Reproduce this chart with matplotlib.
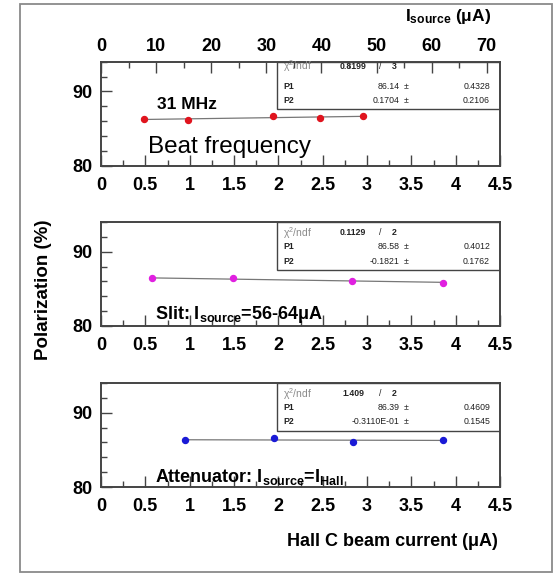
import numpy as np
import matplotlib.pyplot as plt
from matplotlib.patches import Rectangle
from matplotlib.ticker import MultipleLocator

plt.rcParams['font.family'] = ['Liberation Sans', 'DejaVu Sans']
plt.rcParams['mathtext.default'] = 'regular'

# beat frequency, 31 MHz
bf_current = [0.48, 0.98, 1.94, 2.47, 2.95]
bf_pol = [86.35, 86.2, 86.7, 86.45, 86.7]
bf_fit = [86.14, 0.1704]
bf_stats = ['0.8199', '3', '86.14', '0.4328', '0.1704', '0.2106']

# slit, I_source = 56-64 uA
slit_current = [0.57, 1.49, 2.83, 3.86]
slit_pol = [86.45, 86.4, 86.1, 85.8]
slit_fit = [86.58, -0.1821]
slit_stats = ['0.1129', '2', '86.58', '0.4012', '-0.1821', '0.1762']

# attenuator, I_source = I_Hall
att_current = [0.95, 1.95, 2.84, 3.86]
att_pol = [86.3, 86.65, 86.1, 86.32]
att_fit = [86.39, -0.03110]
att_stats = ['1.409', '2', '86.39', '0.4609', '-0.3110E-01', '0.1545']

source_ticks = [0, 10, 20, 30, 40, 50, 60, 70]
source_max = 72.4

W, H = 554, 573
fig = plt.figure(figsize=(W / 100, H / 100), dpi=100)

# outer frame
fig.patches.append(Rectangle((20 / W, 1 - 571.5 / H), 531.5 / W, 568 / H,
                             transform=fig.transFigure, fill=False,
                             edgecolor='#8a8a8a', lw=1.3))

left, width, height = 101 / W, 399 / W, 104 / H
bottoms = [1 - 165.7 / H, 1 - 326 / H, 1 - 487 / H]

def style_axis(ax):
    ax.set_xlim(0, 4.5)
    ax.set_ylim(80, 94)
    ax.xaxis.set_major_locator(MultipleLocator(0.5))
    ax.xaxis.set_minor_locator(MultipleLocator(0.25))
    ax.yaxis.set_major_locator(MultipleLocator(10))
    ax.yaxis.set_minor_locator(MultipleLocator(2))
    ax.set_xticks(np.arange(0, 4.51, 0.5))
    ax.set_xticklabels(['0', '0.5', '1', '1.5', '2', '2.5', '3', '3.5', '4', '4.5'])
    ax.tick_params(which='both', direction='in', top=False, right=False,
                   color='#444444', width=1.0)
    ax.tick_params(which='major', length=8)
    ax.tick_params(which='minor', length=4)
    ax.tick_params(axis='x', which='major', pad=8, labelsize=13)
    ax.tick_params(axis='y', which='major', pad=6, labelsize=13)
    for lab in ax.get_xticklabels() + ax.get_yticklabels():
        lab.set_fontweight('bold')
    for s in ax.spines.values():
        s.set_color('#444444')
        s.set_linewidth(1.4)

def stats_box(ax, stats, chi_top):
    ax.add_patch(Rectangle((0.441, 0.543), 0.559, 0.457, transform=ax.transAxes,
                           facecolor='white', edgecolor='#444444', lw=1.0, zorder=1))
    kw = dict(transform=ax.transAxes, fontsize=6.3, va='center', zorder=3,
              color='#222222')
    ax.text(0.456, chi_top, r'$\chi^2$/ndf', ha='left', fontsize=7.5,
            va='center', zorder=3, color='#8a8a8a', transform=ax.transAxes)
    ax.text(0.632, chi_top, stats[0], ha='center', fontweight='bold', **kw)
    ax.text(0.699, chi_top, '/', ha='center', **kw)
    ax.text(0.735, chi_top, stats[1], ha='center', fontweight='bold', **kw)
    for row, name, val, err in [(0.76, 'P1', stats[2], stats[3]),
                                (0.625, 'P2', stats[4], stats[5])]:
        ax.text(0.456, row, name, ha='left', fontweight='bold', **kw)
        ax.text(0.748, row, val, ha='right', **kw)
        ax.text(0.765, row, '±', ha='center', **kw)
        ax.text(0.975, row, err, ha='right', **kw)

panels = [
    (bf_current, bf_pol, bf_fit, bf_stats, '#e0141e', 0.955),
    (slit_current, slit_pol, slit_fit, slit_stats, '#e020e0', 0.895),
    (att_current, att_pol, att_fit, att_stats, '#1a1ad6', 0.895),
]

axes = []
for b, (cur, pol, fit, stats, col, chi_y) in zip(bottoms, panels):
    ax = fig.add_axes([left, b, width, height])
    style_axis(ax)
    stats_box(ax, stats, chi_y)
    xf = np.array([cur[0], cur[-1]])
    ax.plot(xf, fit[0] + fit[1] * xf, color='#777777', lw=0.9, zorder=2)
    ax.plot(cur, pol, 'o', color=col, ms=4.3, mec=col, zorder=4)
    axes.append(ax)

# source current scale on the top panel
top = axes[0].twiny()
top.set_xlim(0, source_max)
top.xaxis.set_major_locator(MultipleLocator(10))
top.xaxis.set_minor_locator(MultipleLocator(5))
top.set_xticks(source_ticks)
top.tick_params(which='both', direction='in', color='#444444', width=1.0)
top.tick_params(which='major', length=8, pad=5, labelsize=13)
top.tick_params(which='minor', length=4)
for lab in top.get_xticklabels():
    lab.set_fontweight('bold')
for s in top.spines.values():
    s.set_visible(False)

axes[0].text(0.63, 88.2, '31 MHz', fontsize=12.5, fontweight='bold', va='center')
axes[0].text(0.53, 82.5, 'Beat frequency', fontsize=17.5, va='center')
axes[1].text(0.61, 81.6, 'Slit: I$_{source}$=56-64μA', fontsize=13,
             fontweight='bold', va='center', zorder=5)
axes[2].text(0.61, 81.3, 'Attenuator: I$_{source}$=I$_{Hall}$', fontsize=13,
             fontweight='bold', va='center', zorder=5)

fig.text(491 / W, 1 - 16 / H, 'I$_{source}$ (μA)', fontsize=12.5,
         fontweight='bold', ha='right', va='center')
fig.text(498 / W, 1 - 541.5 / H, 'Hall C beam current (μA)', fontsize=13,
         fontweight='bold', ha='right', va='center')
fig.text(44 / W, 1 - 290 / H, 'Polarization (%)', fontsize=13.5,
         fontweight='bold', rotation=90, ha='center', va='center')

fig.savefig('out.png', dpi=100)
